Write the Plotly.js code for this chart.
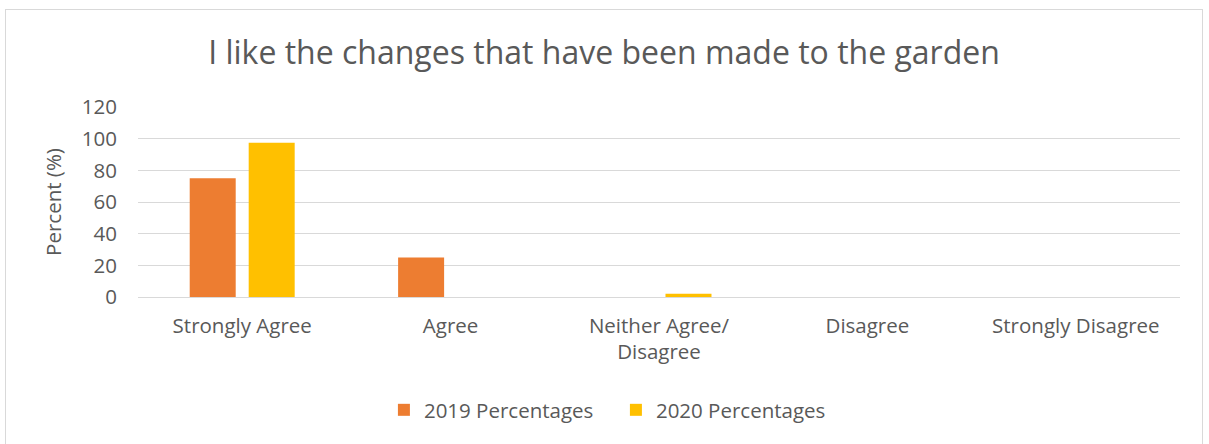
<!DOCTYPE html>
<html>
<head>
<meta charset="utf-8">
<script src="https://cdn.plot.ly/plotly-3.0.1.min.js"></script>
<style>
  body { margin: 0; background: #fff; }
  #chart {
    position: absolute; left: 5px; top: 9px;
    width: 1196px; height: 434px;
    border: 1px solid #d9d9d9;
  }
</style>
</head>
<body>
<div id="chart"></div>
<script>
// categorias e valores (percentagens)
const categories = ['Strongly Agree', 'Agree', 'Neither Agree/<br>Disagree', 'Disagree', 'Strongly Disagree'];
const values2019 = [75, 25, 0, 0, 0];
const values2020 = [97.5, 0, 2, 0, 0];
const yTicks = [0, 20, 40, 60, 80, 100, 120];

const textFont = '"Open Sans", Calibri, Carlito, sans-serif';

const data = [
    {
        x: categories,
        y: values2019,
        name: '2019 Percentages',
        type: 'bar',
        marker: { color: '#ed7d31' }
    },
    {
        x: categories,
        y: values2020,
        name: '2020 Percentages',
        type: 'bar',
        marker: { color: '#ffc000' }
    }
];

const layout = {
    width: 1196,
    height: 434,
    margin: { l: 132, r: 22, t: 97, b: 147 },
    paper_bgcolor: '#ffffff',
    plot_bgcolor: '#ffffff',
    font: { family: textFont, color: '#595959', size: 20 },
    title: {
        text: 'I like the changes that have been made to the garden',
        font: { family: textFont, size: 32, color: '#595959' },
        x: 0.5, xanchor: 'center',
        y: 1 - 43 / 434, yanchor: 'middle',
        yref: 'container'
    },
    barmode: 'group',
    bargap: 0.434,
    bargroupgap: 0.22,
    xaxis: {
        type: 'category',
        showgrid: false,
        showline: false,
        zeroline: false,
        tickfont: { family: textFont, size: 20.5, color: '#595959' },
        ticklabelstandoff: 14
    },
    yaxis: {
        range: [0, 120],
        tickvals: yTicks,
        showgrid: true,
        gridcolor: '#d9d9d9',
        gridwidth: 1,
        zeroline: true,
        zerolinecolor: '#d9d9d9',
        zerolinewidth: 1,
        showline: false,
        tickfont: { family: textFont, size: 20.5, color: '#595959' },
        ticklabelstandoff: 20,
        title: {
            text: 'Percent (%)',
            font: { family: textFont, size: 20.5, color: '#595959' },
            standoff: 14
        }
    },
    showlegend: true,
    legend: {
        orientation: 'h',
        x: 0.236, xanchor: 'left',
        y: -(400 - 287) / 190, yanchor: 'middle',
        font: { family: textFont, size: 20.5, color: '#595959' },
        traceorder: 'normal',
        itemwidth: 30,
        entrywidth: 187
    }
};

Plotly.newPlot('chart', data, layout, { displayModeBar: false, staticPlot: true });
</script>
</body>
</html>
